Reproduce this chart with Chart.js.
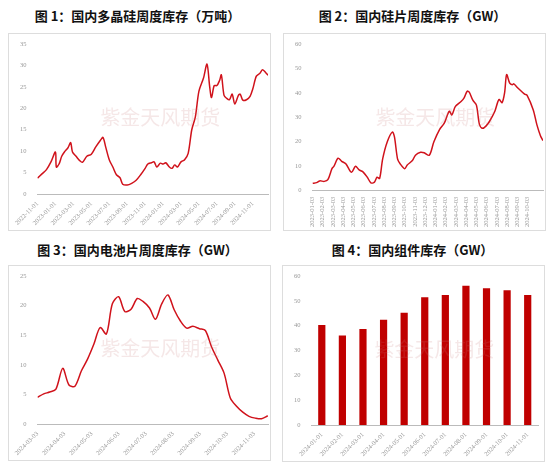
<!DOCTYPE html>
<html>
<head>
<meta charset="utf-8">
<script src="https://cdn.jsdelivr.net/npm/chart.js@4"></script>
<style>
body { margin: 0; background: #fff; font-family: "Noto Sans CJK SC", sans-serif; }
.title { position: absolute; width: 275px; text-align: center; font-weight: bold; font-size: 13px; color: #111; }
.box { position: absolute; border: 1px solid #ddd; box-sizing: border-box; }
.wm { position: absolute; left: 58%; top: 42%; transform: translate(-50%, -50%); font-size: 20px; color: rgba(200, 120, 120, 0.18); white-space: nowrap; pointer-events: none; }
</style>
</head>
<body>
<div class="title" style="left:0;top:6px">图 1：国内多晶硅周度库存（万吨）</div>
<div class="title" style="left:275px;top:6px">图 2：国内硅片周度库存（GW）</div>
<div class="title" style="left:0;top:240px">图 3：国内电池片周度库存（GW）</div>
<div class="title" style="left:275px;top:240px">图 4：国内组件库存（GW）</div>
<div class="box" style="left:8px;top:33px;width:263px;height:198px"><canvas id="c1"></canvas><div class="wm">紫金天风期货</div></div>
<div class="box" style="left:283px;top:33px;width:263px;height:198px"><canvas id="c2"></canvas><div class="wm">紫金天风期货</div></div>
<div class="box" style="left:8px;top:265px;width:263px;height:196px"><canvas id="c3"></canvas><div class="wm">紫金天风期货</div></div>
<div class="box" style="left:282px;top:265px;width:263px;height:197px"><canvas id="c4"></canvas><div class="wm">紫金天风期货</div></div>
<script>
// Fig 1: polysilicon weekly inventory, x = months since 2022-11-01
const polyX = [0,0.5,1,1.5,2,2.1,2.4,2.7,3,3.4,3.7,3.9,4.3,4.7,5,5.5,6,6.5,7,7.3,7.6,8,8.4,8.8,9.2,9.5,10,10.5,11,11.5,12,12.3,12.7,13,13.3,13.7,14,14.3,14.7,15,15.3,15.6,16,16.4,16.8,17.2,17.6,18,18.5,18.9,19.2,19.4,19.7,20,20.3,20.5,20.8,21.1,21.4,21.7,22,22.4,22.6,22.9,23.3,23.7,24,24.4,24.8,25.1,25.5,25.7];
const polyY = [3.7,4.7,5.7,7.5,9.8,6.3,7,8.8,9.8,10.8,12,9.8,8.8,7.8,7.4,8.8,9.3,11,12.5,13.2,11,8,6.3,4.5,3.8,2.3,2.1,2.5,3.2,4.5,6,7,7.3,7.5,6.3,7.2,7,7.3,6.3,6,6.8,6.3,7.5,8,9.5,15,18,24,27,30.3,25,22.5,25.3,25.3,26.5,27.8,23,22.3,22,23.3,21,23,23.3,21.9,22,22.8,24.5,27.5,28.2,29,28.2,27.7];

// Fig 2: wafer weekly inventory, x = months since 2023-01-03
const waferX = [0,0.4,0.7,1.15,1.5,1.9,2.1,2.5,2.85,3.25,3.8,4.2,4.55,4.9,5.35,5.7,6.05,6.3,6.55,6.85,7.3,7.8,8,8.3,8.55,9,9.25,9.75,10.05,10.55,10.9,11.4,11.85,12.4,12.85,13.35,13.6,13.95,14.5,14.8,15.1,15.3,15.65,16,16.3,16.6,16.95,17.3,17.8,18.2,18.5,18.75,18.95,19.25,19.5,19.65,20.05,20.7,20.95,21.55,21.9,22.25,22.5];
const waferY = [3,3.3,4,3.8,4.5,9,10,13.3,12,11,7.5,10,8.5,7.8,5.5,3.2,3.5,5.5,5,13,20,24,22,13,11,9,10.5,12.3,14.5,15.7,15.5,14.5,20,25,27.5,32.5,31,34.5,36.5,38,40.7,40.3,37,35,27,25.5,26.5,28.5,32.5,37.3,36,40,47.5,44,43.3,43.7,42,39.5,39,33,27,22.5,20.5];

// Fig 3: cell weekly inventory, x = months since 2024-03-03
const cellX = [0,0.23,0.45,0.68,0.93,1.16,1.38,1.62,1.85,2.08,2.31,2.54,2.76,2.99,3.22,3.45,3.68,3.89,4.13,4.35,4.58,4.81,5.04,5.27,5.5,5.73,5.97,6.19,6.42,6.65,6.88,7.11,7.34,7.57,7.8,8.03,8.26,8.49];
const cellY = [4.5,5.1,5.4,5.9,9.4,6.6,6.4,9,11,13.5,16.3,15.2,20.3,21.5,19,19.4,21.2,20.7,19.6,17.7,20.3,21.8,19.3,17.4,16.2,16.5,16.1,15.8,13,10.8,8.6,4.4,3,2,1.3,1,0.9,1.4];

// Fig 4: module monthly inventory
const moduleLabels = ['2024-01-01','2024-02-01','2024-03-01','2024-04-01','2024-05-01','2024-06-01','2024-07-01','2024-08-01','2024-09-01','2024-10-01','2024-11-01'];
const moduleY = [40.3,36,38.7,42.4,45.2,51.4,52.4,56.1,55.1,54.3,52.4];

const RED = '#d0121b';
const tickFont = { size: 6.5, family: 'Liberation Serif' };
const tickColor = '#999';

function monthLabel(y, m, d, n) {
    const t = (y * 12 + (m - 1)) + n;
    const yy = Math.floor(t / 12), mm = t % 12 + 1;
    return yy + '-' + String(mm).padStart(2, '0') + '-' + d;
}

function lineChart(id, xs, ys, xmax, step, start, ymax, ystep, rot) {
    new Chart(document.getElementById(id), {
        type: 'line',
        data: {
            datasets: [{
                data: xs.map((x, i) => ({ x: x, y: ys[i] })),
                borderColor: RED, borderWidth: 1.5, pointRadius: 0, tension: 0.3
            }]
        },
        options: {
            responsive: true, maintainAspectRatio: false, animation: false,
            layout: { padding: { top: 10, right: 2, left: 8 } },
            plugins: { legend: { display: false }, tooltip: { enabled: false } },
            scales: {
                x: {
                    type: 'linear', min: 0, max: xmax,
                    afterBuildTicks: s => { s.ticks = s.ticks.filter(t => Math.abs(t.value / step - Math.round(t.value / step)) < 1e-6); },
                    grid: { display: false, drawTicks: true, tickLength: 3 },
                    border: { color: '#bbb' },
                    ticks: {
                        stepSize: step, autoSkip: false, maxRotation: rot, minRotation: rot,
                        font: tickFont, color: tickColor,
                        callback: v => monthLabel(start[0], start[1], start[2], Math.round(v))
                    }
                },
                y: {
                    min: 0, max: ymax,
                    grid: { display: false },
                    border: { display: false },
                    ticks: { stepSize: ystep, font: tickFont, color: tickColor }
                }
            }
        }
    });
}

lineChart('c1', polyX, polyY, 25.7, 2, [2022, 11, '01'], 35, 5, 45);
lineChart('c2', waferX, waferY, 22.5, 1, [2023, 1, '03'], 60, 10, 90);
lineChart('c3', cellX, cellY, 8.5, 1, [2024, 3, '03'], 25, 5, 45);

new Chart(document.getElementById('c4'), {
    type: 'bar',
    data: {
        labels: moduleLabels,
        datasets: [{ data: moduleY, backgroundColor: '#c00000', categoryPercentage: 0.7, barPercentage: 0.5 }]
    },
    options: {
        responsive: true, maintainAspectRatio: false, animation: false,
        layout: { padding: { top: 10, right: 6, left: 8 } },
        plugins: { legend: { display: false }, tooltip: { enabled: false } },
        scales: {
            x: {
                grid: { display: false, tickLength: 3 },
                border: { color: '#bbb' },
                ticks: { maxRotation: 45, minRotation: 45, font: tickFont, color: tickColor }
            },
            y: {
                min: 0, max: 60,
                grid: { display: false },
                border: { display: false },
                ticks: { stepSize: 10, font: tickFont, color: tickColor }
            }
        }
    }
});
</script>
</body>
</html>
